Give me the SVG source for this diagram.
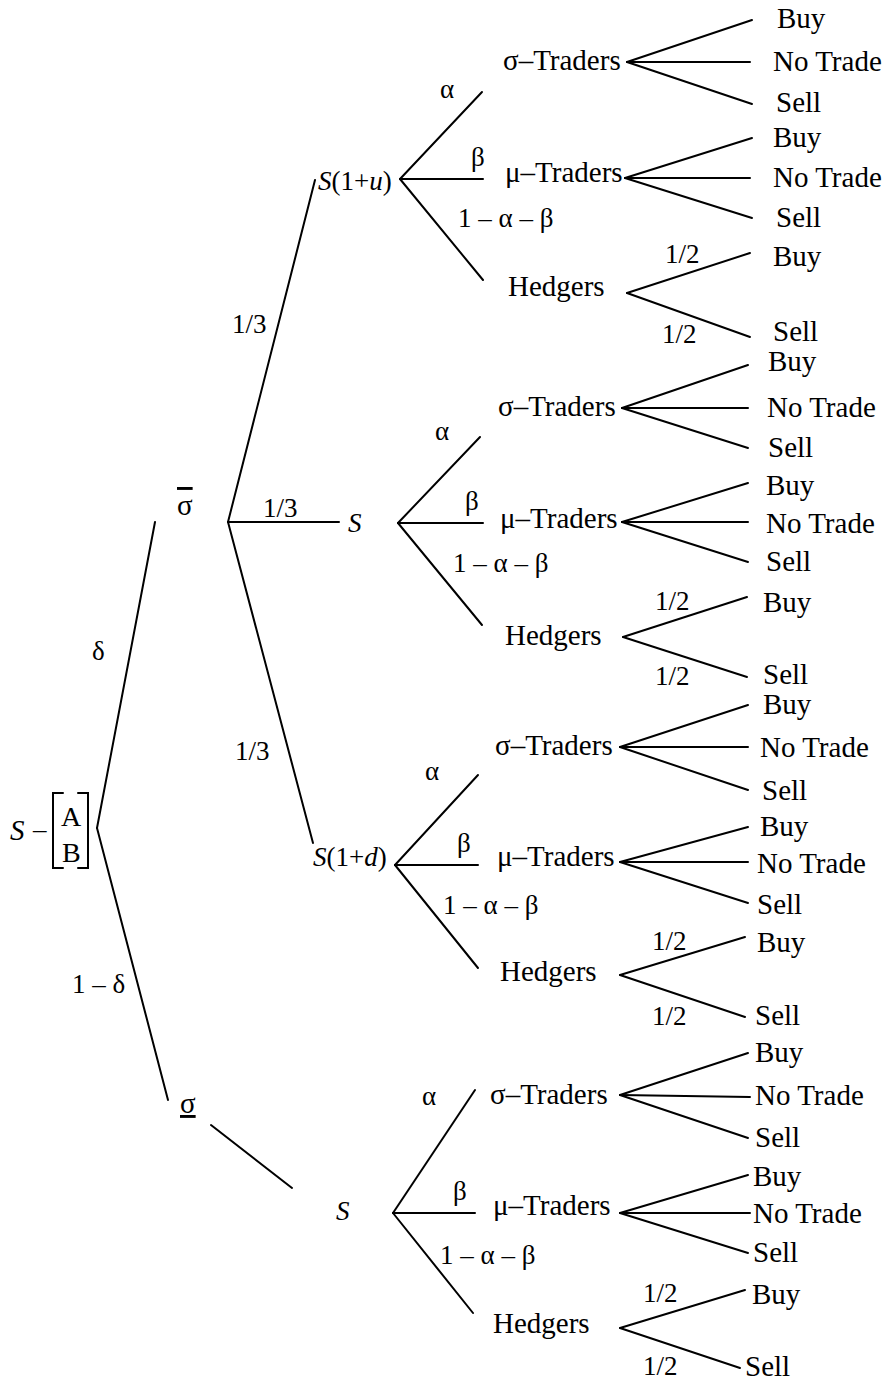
<svg xmlns="http://www.w3.org/2000/svg" width="890" height="1383" viewBox="0 0 890 1383">
<style>
text{font-family:"Liberation Serif","DejaVu Serif",serif;font-size:27px;fill:#000}
.i{font-style:italic}
.n text{font-size:29px}
line,path{stroke:#000;stroke-width:2;fill:none;stroke-linecap:round}
.ov{text-decoration:overline;font-size:29px}
.un{text-decoration:underline;font-size:29px}
</style>
<rect width="890" height="1383" fill="#fff"/>
<g id="connectors">
<line x1="97" y1="828" x2="155" y2="522"/>
<line x1="97" y1="828" x2="168" y2="1100"/>
<line x1="228" y1="522" x2="315" y2="180"/>
<line x1="228" y1="522" x2="339" y2="522"/>
<line x1="228" y1="522" x2="313" y2="843"/>
<line x1="211" y1="1125" x2="292" y2="1188"/>
<line x1="400" y1="179" x2="482" y2="92"/>
<line x1="400" y1="179" x2="483" y2="179"/>
<line x1="400" y1="179" x2="483" y2="280"/>
<line x1="398" y1="523" x2="480" y2="437"/>
<line x1="398" y1="523" x2="483" y2="523"/>
<line x1="398" y1="523" x2="482" y2="625"/>
<line x1="395" y1="865" x2="478" y2="775"/>
<line x1="395" y1="865" x2="478" y2="865"/>
<line x1="395" y1="865" x2="478" y2="968"/>
<line x1="393" y1="1213" x2="475" y2="1090"/>
<line x1="393" y1="1213" x2="475" y2="1213"/>
<line x1="393" y1="1213" x2="473" y2="1313"/>
<line x1="627" y1="62" x2="752" y2="20"/><line x1="627" y1="62" x2="750" y2="62"/><line x1="627" y1="62" x2="752" y2="104"/>
<line x1="625" y1="178" x2="752" y2="138"/><line x1="625" y1="178" x2="750" y2="178"/><line x1="625" y1="178" x2="752" y2="218"/>
<line x1="627" y1="293" x2="750" y2="253"/><line x1="627" y1="293" x2="750" y2="337"/>
<line x1="622" y1="408" x2="748" y2="365"/><line x1="622" y1="408" x2="748" y2="408"/><line x1="622" y1="408" x2="748" y2="448"/>
<line x1="622" y1="522" x2="748" y2="483"/><line x1="622" y1="522" x2="748" y2="522"/><line x1="622" y1="522" x2="748" y2="562"/>
<line x1="623" y1="637" x2="747" y2="597"/><line x1="623" y1="637" x2="747" y2="677"/>
<line x1="620" y1="747" x2="748" y2="705"/><line x1="620" y1="747" x2="748" y2="747"/><line x1="620" y1="747" x2="748" y2="790"/>
<line x1="620" y1="862" x2="748" y2="827"/><line x1="620" y1="862" x2="748" y2="862"/><line x1="620" y1="862" x2="748" y2="903"/>
<line x1="620" y1="975" x2="745" y2="937"/><line x1="620" y1="975" x2="745" y2="1017"/>
<line x1="620" y1="1095" x2="748" y2="1053"/><line x1="620" y1="1095" x2="750" y2="1097"/><line x1="620" y1="1095" x2="748" y2="1138"/>
<line x1="620" y1="1213" x2="748" y2="1175"/><line x1="620" y1="1213" x2="750" y2="1213"/><line x1="620" y1="1213" x2="748" y2="1253"/>
<line x1="620" y1="1328" x2="745" y2="1290"/><line x1="620" y1="1328" x2="740" y2="1368"/>
</g>
<g id="root">
<text x="10" y="840" class="i" style="font-size:29px">S</text>
<text x="33" y="838">–</text>
<path d="M63,793 H53 V868 H63 M78,793 H88 V868 H78"/>
<text x="61" y="826" style="font-size:28px">A</text>
<text x="62" y="862" style="font-size:28px">B</text>
</g>
<g id="edge-labels-1">
<text x="92" y="660">δ</text>
<text x="72" y="993">1 – δ</text>
<text x="232" y="333">1/3</text>
<text x="263" y="517">1/3</text>
<text x="235" y="760">1/3</text>
</g>
<g id="sigma-high"><text x="177" y="515" class="ov">σ</text></g>
<g id="sigma-low"><text x="180" y="1113" class="un">σ</text></g>
<g id="node-S-up"><text x="318" y="190"><tspan class="i">S</tspan>(1+<tspan class="i">u</tspan>)</text></g>
<g id="node-S-mid"><text x="348" y="532" class="i">S</text></g>
<g id="node-S-down"><text x="313" y="866"><tspan class="i">S</tspan>(1+<tspan class="i">d</tspan>)</text></g>
<g id="node-S-low"><text x="336" y="1220" class="i">S</text></g>
<g id="subtree-A">
<text x="440" y="98">α</text><text x="471" y="166">β</text><text x="458" y="227">1 – α – β</text>
<g class="n">
<text x="503" y="70">σ–Traders</text><text x="505" y="182">μ–Traders</text><text x="508" y="296">Hedgers</text>
<text x="777" y="28">Buy</text><text x="773" y="71">No Trade</text><text x="776" y="112">Sell</text>
<text x="773" y="147">Buy</text><text x="773" y="187">No Trade</text><text x="776" y="227">Sell</text>
<text x="773" y="266">Buy</text><text x="773" y="341">Sell</text>
</g>
<text x="665" y="263">1/2</text><text x="662" y="343">1/2</text>
</g>
<g id="subtree-B">
<text x="435" y="440">α</text><text x="465" y="510">β</text><text x="453" y="572">1 – α – β</text>
<g class="n">
<text x="498" y="416">σ–Traders</text><text x="500" y="528">μ–Traders</text><text x="505" y="645">Hedgers</text>
<text x="768" y="371">Buy</text><text x="767" y="417">No Trade</text><text x="768" y="457">Sell</text>
<text x="766" y="495">Buy</text><text x="766" y="533">No Trade</text><text x="766" y="571">Sell</text>
<text x="763" y="612">Buy</text><text x="763" y="684">Sell</text>
</g>
<text x="655" y="610">1/2</text><text x="655" y="685">1/2</text>
</g>
<g id="subtree-C">
<text x="425" y="780">α</text><text x="457" y="852">β</text><text x="443" y="914">1 – α – β</text>
<g class="n">
<text x="495" y="755">σ–Traders</text><text x="497" y="866">μ–Traders</text><text x="500" y="981">Hedgers</text>
<text x="763" y="714">Buy</text><text x="760" y="757">No Trade</text><text x="762" y="800">Sell</text>
<text x="760" y="836">Buy</text><text x="757" y="873">No Trade</text><text x="757" y="914">Sell</text>
<text x="757" y="952">Buy</text><text x="755" y="1025">Sell</text>
</g>
<text x="652" y="950">1/2</text><text x="652" y="1025">1/2</text>
</g>
<g id="subtree-D">
<text x="422" y="1105">α</text><text x="453" y="1200">β</text><text x="440" y="1264">1 – α – β</text>
<g class="n">
<text x="490" y="1104">σ–Traders</text><text x="493" y="1215">μ–Traders</text><text x="493" y="1333">Hedgers</text>
<text x="755" y="1062">Buy</text><text x="755" y="1105">No Trade</text><text x="755" y="1147">Sell</text>
<text x="753" y="1186">Buy</text><text x="753" y="1223">No Trade</text><text x="753" y="1262">Sell</text>
<text x="752" y="1304">Buy</text><text x="745" y="1376">Sell</text>
</g>
<text x="643" y="1302">1/2</text><text x="643" y="1375">1/2</text>
</g>
</svg>
